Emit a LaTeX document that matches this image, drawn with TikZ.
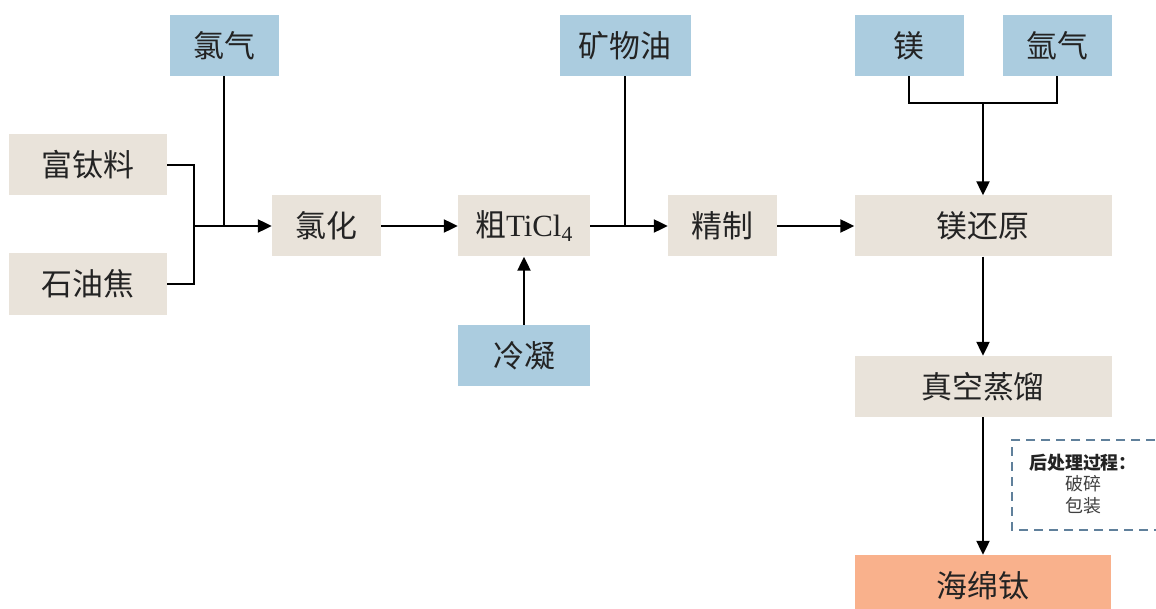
\documentclass[tikz,border=0pt]{standalone}
\usepackage{fontspec}
\setmainfont{Liberation Serif}
\newfontfamily\cjk{Noto Sans CJK SC}
\usetikzlibrary{arrows.meta}
\definecolor{boxblue}{RGB}{171,204,223}
\definecolor{boxbeige}{RGB}{233,227,218}
\definecolor{boxorange}{RGB}{249,177,140}
\definecolor{dashcol}{RGB}{96,128,155}
\definecolor{txt}{RGB}{35,35,35}
\tikzset{
  base/.style={inner sep=0pt, minimum height=61bp, text=txt, font=\fontsize{31}{34}\selectfont\cjk},
  inbox/.style={base, fill=boxblue},
  procbox/.style={base, fill=boxbeige},
  outbox/.style={base, fill=boxorange},
  conn/.style={line width=2.2bp, black},
  arr/.style={conn, -{Triangle[length=14bp,width=13bp]}},
}
\begin{document}
\begin{tikzpicture}[x=1bp,y=-1bp]
\clip (0,0) rectangle (1156,609);
\fill[white] (0,0) rectangle (1156,609);
% input boxes
\node[inbox, minimum width=109bp] (qiqi) at (224,45.5) {氯气};
\node[inbox, minimum width=131bp] (kw) at (625,45.5) {矿物油};
\node[inbox, minimum width=109bp] (mg) at (909,45.5) {镁};
\node[inbox, minimum width=109bp] (ar) at (1057,45.5) {氩气};
\node[inbox, minimum width=132bp] (ln) at (524,355.5) {冷凝};
% process boxes
\node[procbox, minimum width=158bp] (fu) at (88,165) {富钛料};
\node[procbox, minimum width=158bp] (shi) at (88,284) {石油焦};
\node[procbox, minimum width=109bp] (lh) at (326.5,226) {氯化};
\node[procbox, minimum width=132bp] (cu) at (524,226) {粗{\rmfamily TiCl\textsubscript{4}}};
\node[procbox, minimum width=109bp] (jz) at (722.5,226) {精制};
\node[procbox, minimum width=257bp] (hy) at (983,226) {镁还原};
\node[procbox, minimum width=257bp] (zk) at (983,386.5) {真空蒸馏};
\node[outbox, minimum width=256bp, minimum height=62bp] (hm) at (983,586) {海绵钛};
% junctions
\coordinate (j1) at (194,226);
\coordinate (j2) at (983,103);
% connectors
\draw[conn] (fu.east) -| (j1);
\draw[conn] (shi.east) -| (j1);
\draw[conn] (qiqi.south) -- (qiqi.south |- j1);
\draw[arr] (j1) -- (lh.west);
\draw[arr] (lh.east) -- (cu.west);
\draw[arr] (ln.north) -- (cu.south);
\draw[conn] (kw.south) -- (kw.south |- cu.east);
\draw[arr] (cu.east) -- (jz.west);
\draw[arr] (jz.east) -- (hy.west);
\draw[conn] (mg.south) |- (j2);
\draw[conn] (ar.south) |- (j2);
\draw[arr] (j2) -- (hy.north);
\draw[arr] (hy.south) -- (zk.north);
\draw[arr] (zk.south) -- (hm.north);
% post-processing note
\draw[dashcol, line width=1.4bp, dash pattern=on 9bp off 6bp] (1170,440) -- (1012,440) -- (1012,530) -- (1170,530);
\node[text=txt, align=center, inner sep=0pt, font=\fontsize{18}{22}\selectfont\cjk] (note) at (1083,484)
  {\textbf{后处理过程：}\\{\color{black!75}破碎}\\{\color{black!75}包装}};
\end{tikzpicture}
\end{document}
